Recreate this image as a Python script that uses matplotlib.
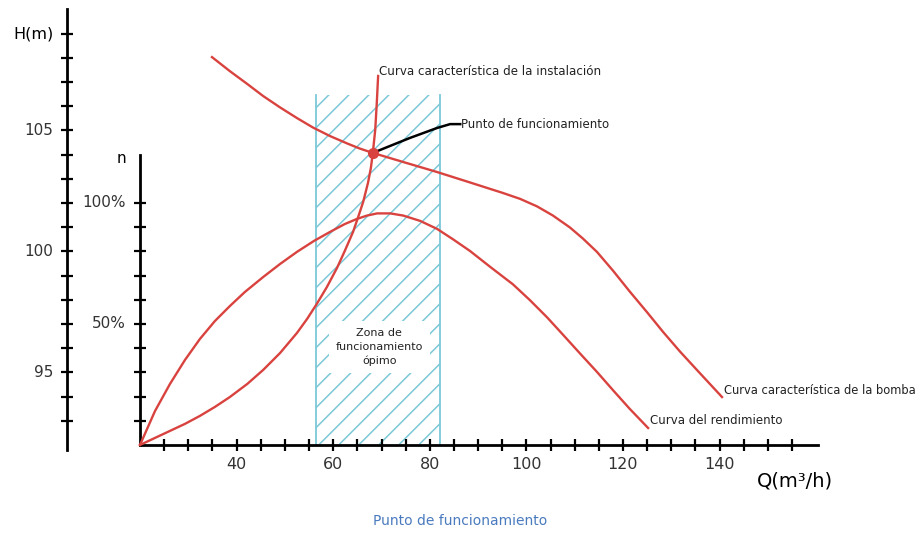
import matplotlib
matplotlib.use("Agg")
import numpy as np
import matplotlib.pyplot as plt
from matplotlib.patches import Rectangle

# curva caracteristica de la bomba (Q en m3/h, H en m)
q_bomba = [34.9, 38.6, 42.2, 45.5, 49.0, 52.5, 55.8, 59.3, 62.9, 65.5, 68.2, 74.9, 81.5, 88.3, 95.2,
           98.7, 102.2, 105.5, 109.0, 111.7, 114.6, 117.9, 121.4, 125.0, 128.3, 131.8, 135.3, 140.5]
h_bomba = [108.03, 107.45, 106.92, 106.42, 105.95, 105.51, 105.12, 104.77, 104.46, 104.25, 104.07,
           103.67, 103.28, 102.85, 102.41, 102.17, 101.86, 101.48, 100.99, 100.53, 99.98, 99.21,
           98.34, 97.48, 96.67, 95.86, 95.10, 93.98]

# curva caracteristica de la instalacion
q_inst = [20, 23.1, 26.2, 29.3, 32.4, 35.5, 38.6, 42.2, 45.5, 49.0, 52.5, 54.6, 56.6, 58.7, 60.8,
          62.4, 64.1, 65.1, 66.2, 67.2, 67.8, 68.2, 68.7, 69.0, 69.3]
h_inst = [92.0, 92.29, 92.58, 92.87, 93.20, 93.57, 93.98, 94.52, 95.10, 95.80, 96.63, 97.21, 97.83,
          98.53, 99.32, 100.02, 100.80, 101.38, 102.04, 102.83, 103.45, 104.07, 105.02, 106.05, 107.25]

# curva del rendimiento (%)
q_rend = [20, 23.1, 26.2, 29.3, 32.4, 35.5, 38.6, 41.7, 45.5, 49.0, 52.5, 56.0, 59.3, 62.4, 64.9,
          67.0, 69.1, 71.8, 74.5, 78.0, 81.5, 84.8, 88.3, 92.5, 97.2, 100.7, 104.3, 107.6, 111.1,
          114.6, 117.9, 121.4, 125.2]
n_rend = [0, 14.0, 25.2, 35.1, 43.8, 51.2, 57.4, 63.2, 69.4, 74.8, 79.8, 84.3, 88.0, 91.3, 93.4,
          94.8, 95.7, 95.7, 94.8, 92.6, 89.3, 85.0, 80.2, 73.6, 66.4, 59.9, 52.7, 45.5, 37.8, 30.2,
          22.7, 14.9, 7.0]

punto_q, punto_h = 68.2, 104.07
guia_q = [68.2, 71.8, 75.9, 81.5, 84.2, 86.3]
guia_h = [104.07, 104.36, 104.69, 105.10, 105.26, 105.26]
zona_q = [56.4, 82.1]
zona_h = [92.05, 106.46]

h_labels = [95, 100, 105]
n_labels = [50, 100]
q_labels = [40, 60, 80, 100, 120, 140]

ROJO = "#d9433f"
CIAN = "#7cc8d8"
GRIS = "#333333"
TXT = "#222222"
FONT = ["DejaVu Sans"]

# escala en pixeles por unidad (para el rayado a 45 grados)
PX_Q = 4.83
PX_H = 24.2


def n_to_h(n):
    # la escala del rendimiento comparte las marcas de H: 0% -> 92 m, 10% por marca
    return 92 + n / 10.0


fig = plt.figure(figsize=(9.21, 5.33), dpi=100)
ax = fig.add_axes([0, 0, 1, 1])
ax.set_xlim(-8.99, 181.7)
ax.set_ylim(88.36, 110.39)
ax.axis("off")

# zona de funcionamiento optimo
rect = Rectangle((zona_q[0], zona_h[0]), zona_q[1] - zona_q[0], zona_h[1] - zona_h[0],
                 fill=False, lw=0, transform=ax.transData)
ax.add_patch(rect)
paso = 20.0 / PX_H
ancho_h = (zona_q[1] - zona_q[0]) * PX_Q / PX_H
for h0 in np.arange(zona_h[0] - ancho_h, zona_h[1] + paso, paso):
    ln, = ax.plot([zona_q[0], zona_q[1]], [h0, h0 + ancho_h], color=CIAN, lw=1.1, zorder=1)
    ln.set_clip_path(rect)
ax.plot([zona_q[0], zona_q[0]], zona_h, color=CIAN, lw=1.3, zorder=1)
ax.plot([zona_q[1], zona_q[1]], zona_h, color=CIAN, lw=1.3, zorder=1)
ax.text(sum(zona_q) / 2 + 0.3, 96.05, "Zona de\nfuncionamiento\nópimo", ha="center", va="center",
        fontsize=8, family=FONT, color=TXT, linespacing=1.45, zorder=2,
        bbox=dict(facecolor="white", edgecolor="none", pad=5))

# ejes
ax.plot([4.9, 4.9], [91.8, 110.0], color="black", lw=2, zorder=3)
ax.plot([4.9] * 17, list(range(93, 110)), ls="none", marker="_", ms=8, mew=1.6, color="black", zorder=3)
ax.plot([20, 20], [92, 104.0], color="black", lw=2, zorder=3)
ax.plot([20] * 10, [n_to_h(v) for v in range(10, 101, 10)], ls="none", marker="_", ms=8, mew=1.6,
        color="black", zorder=3)
ax.plot([20, 160.4], [92, 92], color="black", lw=2, zorder=3)
ax.plot(list(range(25, 160, 5)), [92] * 27, ls="none", marker="|", ms=8, mew=1.6, color="black", zorder=3)

for v in h_labels:
    ax.annotate(str(v), (4.9, v), xytext=(-10, 0), textcoords="offset points", ha="right", va="center",
                fontsize=11, family=FONT, color=GRIS)
ax.annotate("H(m)", (4.9, 109), xytext=(-10, 0), textcoords="offset points", ha="right", va="center",
            fontsize=11.5, family=FONT, color="black")
for v in n_labels:
    ax.annotate("%d%%" % v, (20, n_to_h(v)), xytext=(-10, 0), textcoords="offset points", ha="right",
                va="center", fontsize=11, family=FONT, color=GRIS)
ax.annotate("n", (20, 103.85), xytext=(-10, 0), textcoords="offset points", ha="right", va="center",
            fontsize=11, family=FONT, color="black")
for v in q_labels:
    ax.annotate(str(v), (v, 92), xytext=(0, -14), textcoords="offset points", ha="center", va="center",
                fontsize=11.5, family=FONT, color=GRIS)
ax.annotate("Q(m³/h)", (140, 92), xytext=(54, -26), textcoords="offset points", ha="center", va="center",
            fontsize=14, family=FONT, color="black")

# curvas
ax.plot(q_bomba, h_bomba, color=ROJO, lw=1.7, zorder=4, solid_joinstyle="round")
ax.plot(q_inst, h_inst, color=ROJO, lw=1.7, zorder=4, solid_joinstyle="round")
ax.plot(q_rend, [n_to_h(v) for v in n_rend], color=ROJO, lw=1.7, zorder=4, solid_joinstyle="round")

# punto de funcionamiento
ax.plot(guia_q, guia_h, color="black", lw=1.8, zorder=5, solid_joinstyle="round")
ax.plot([punto_q], [punto_h], marker="o", ms=7, color=ROJO, zorder=6)

ax.text(69.5, 107.45, "Curva característica de la instalación", ha="left", va="center", fontsize=8.6,
        family=FONT, color=TXT)
ax.text(86.5, 105.26, "Punto de funcionamiento", ha="left", va="center", fontsize=8.5,
        family=FONT, color=TXT)
ax.text(141.0, 94.25, "Curva característica de la bomba", ha="left", va="center", fontsize=8.3,
        family=FONT, color=TXT)
ax.text(125.6, 93.0, "Curva del rendimiento", ha="left", va="center", fontsize=8.5,
        family=FONT, color=TXT)

# pie de figura
fig.text(0.5, 1 - 521 / 533, "Punto de funcionamiento", ha="center", va="center", fontsize=10,
         family="DejaVu Sans", color="#4a7bbf")

fig.savefig("out.png", dpi=100, facecolor="white")
